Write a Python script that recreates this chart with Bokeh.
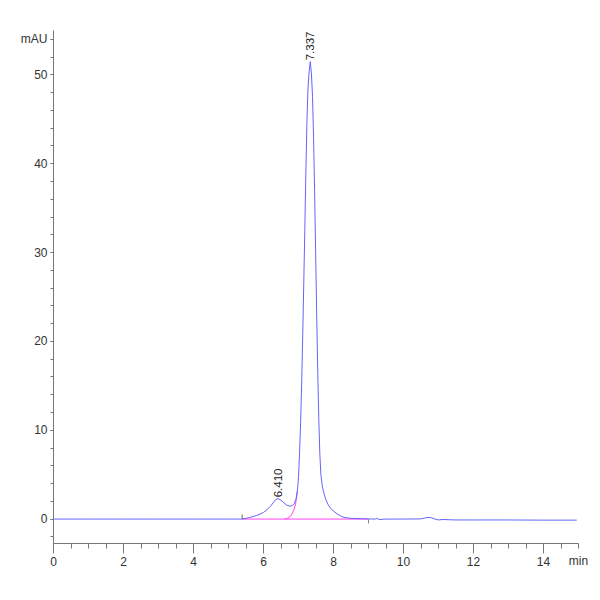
import numpy as np
from bokeh.plotting import figure
from bokeh.models import FixedTicker, LabelSet, ColumnDataSource
from bokeh.core.properties import value
from bokeh.embed import file_html
from bokeh.resources import INLINE

# chromatogram signal (mAU)
time = [0.0, 1.0, 2.0, 3.0, 4.0, 5.0, 5.39, 5.5, 5.6, 5.7, 5.8, 5.9, 6.0, 6.1,
        6.2, 6.3, 6.35, 6.41, 6.47, 6.55, 6.65, 6.75, 6.82, 6.88, 6.93, 6.97,
        7.0, 7.03, 7.06, 7.09, 7.12, 7.15, 7.18, 7.21, 7.24, 7.27, 7.3, 7.337,
        7.37, 7.4, 7.43, 7.46, 7.49, 7.52, 7.55, 7.58, 7.61, 7.64, 7.68, 7.72,
        7.78, 7.85, 7.92, 8.0, 8.1, 8.2, 8.3, 8.45, 8.6, 8.8, 9.0, 9.2, 9.25,
        9.3, 9.5, 10.0, 10.5, 10.6, 10.7, 10.8, 10.9, 11.0, 11.1, 11.5, 12.0,
        13.0, 14.0, 14.95]
signal = [0.0, 0.0, 0.0, 0.0, 0.0, 0.0, 0.0, 0.08, 0.18, 0.28, 0.4, 0.55, 0.75, 1.05,
          1.45, 1.95, 2.2, 2.3, 2.2, 1.95, 1.6, 1.45, 1.5, 1.75, 2.3, 3.2,
          4.7, 7.4, 10.8, 15.2, 20.5, 26.5, 32.5, 39.0, 44.5, 48.4, 50.2, 51.5,
          50.1, 47.6, 43.0, 37.0, 30.0, 23.0, 16.5, 11.2, 7.3, 5.0, 3.7, 3.0,
          2.2, 1.6, 1.2, 0.9, 0.6, 0.35, 0.18, 0.1, 0.06, 0.04, 0.02, 0.0, 0.08,
          -0.05, 0.0, 0.0, 0.02, 0.12, 0.18, 0.15, 0.0, -0.1, -0.05, -0.1, -0.1,
          -0.1, -0.12, -0.12]

# integration baseline and peak split
base_t = [5.39, 9.0]
base_v = [0.0, 0.0]
split_t = [6.6, 6.68, 6.75, 6.81, 6.86, 6.9, 6.93, 6.97]
split_v = [0.0, 0.08, 0.25, 0.55, 0.95, 1.45, 2.0, 3.2]

# peak labels
peak_rt = [6.410, 7.337]
peak_height = [2.3, 51.5]
peak_text = ["6.410", "7.337"]

# axis ticks
x_major = [0, 2, 4, 6, 8, 10, 12, 14]
x_minor = [i * 0.5 for i in range(31)]
y_major = [0, 10, 20, 30, 40, 50, 54]
y_minor = [-2] + [i * 2 for i in range(28)]
y_unit = "mAU"
x_unit = "min"

font = "Liberation Sans"

p = figure(width=592, height=592, x_range=(0, 15), y_range=(-2.75, 55),
           toolbar_location=None, output_backend="svg",
           min_border_left=53, min_border_right=14, min_border_top=30,
           min_border_bottom=49)
p.outline_line_color = None
p.xgrid.grid_line_color = None
p.ygrid.grid_line_color = None

p.line(base_t, base_v, line_color="#ff44ee", line_width=1)
p.line(split_t, split_v, line_color="#ff44ee", line_width=1)
p.line(time, signal, line_color="#6464ff", line_width=1)

# peak start / end markers
p.segment(x0=[base_t[0]], y0=[0], x1=[base_t[0]], y1=[0.5], line_color="#666666")
p.segment(x0=[base_t[1]], y0=[0], x1=[base_t[1]], y1=[-0.5], line_color="#888888")

src = ColumnDataSource(dict(x=peak_rt, y=[h + 0.15 for h in peak_height], t=peak_text))
p.add_layout(LabelSet(x="x", y="y", text="t", source=src, angle=np.pi / 2,
                      text_align="left", text_baseline="middle",
                      text_font=value(font), text_font_size="11.5px",
                      text_color="#222222"))

p.xaxis.ticker = FixedTicker(ticks=x_major, minor_ticks=x_minor)
p.yaxis.ticker = FixedTicker(ticks=y_major, minor_ticks=y_minor)
p.yaxis.major_label_overrides = {54: y_unit}
for ax in (p.xaxis, p.yaxis):
    ax.axis_line_color = "#777777"
    ax.major_tick_line_color = "#777777"
    ax.minor_tick_line_color = "#777777"
    ax.major_tick_in = 0
    ax.minor_tick_in = 0
    ax.major_label_standoff = 3
    ax.major_label_text_font = font
    ax.major_label_text_font_size = "12px"
    ax.major_label_text_color = "#333333"
p.xaxis.major_tick_out = 10
p.xaxis.minor_tick_out = 5
p.yaxis.major_tick_out = 3
p.yaxis.minor_tick_out = 3

# "min" unit sits at the right end, on the tick-label row
p.xaxis.axis_label = x_unit
p.xaxis.axis_label_align = "end"
p.xaxis.axis_label_standoff = -15
p.xaxis.axis_label_text_font = font
p.xaxis.axis_label_text_font_size = "12px"
p.xaxis.axis_label_text_font_style = "normal"
p.xaxis.axis_label_text_color = "#333333"

open("out.html", "w").write(file_html(p, INLINE))
